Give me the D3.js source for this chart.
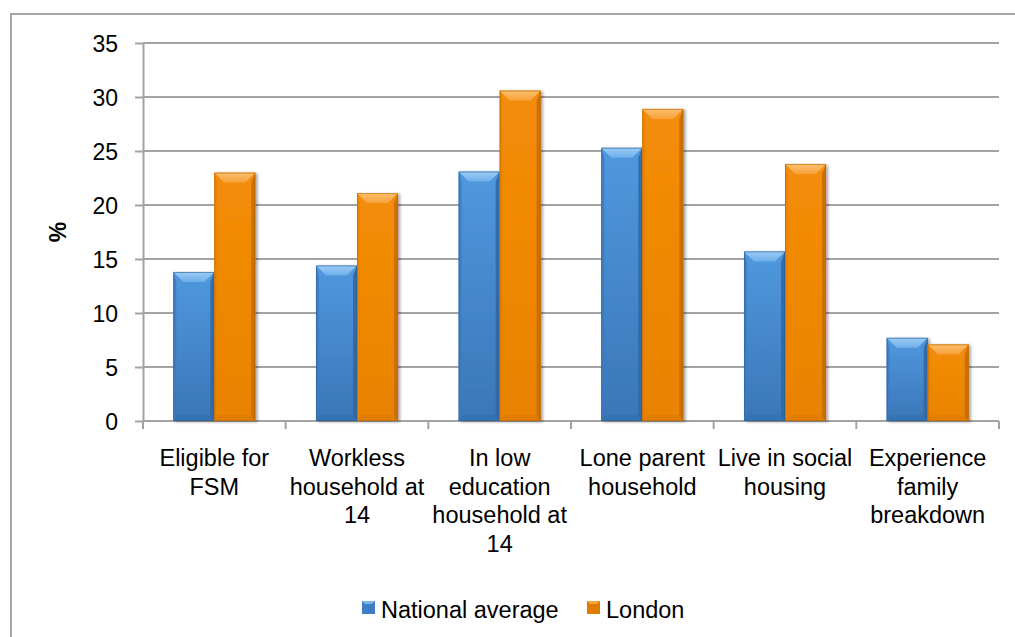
<!DOCTYPE html>
<html>
<head>
<meta charset="utf-8">
<script src="https://cdn.jsdelivr.net/npm/d3@7"></script>
<style>
  html, body { margin: 0; padding: 0; background: #ffffff; }
  svg { display: block; font-family: "Liberation Sans", Arial, sans-serif; }
</style>
</head>
<body>
<svg id="chart" width="1015" height="637"></svg>
<script>
// ---- data ----
const categories = [
  ["Eligible for", "FSM"],
  ["Workless", "household at", "14"],
  ["In low", "education", "household at", "14"],
  ["Lone parent", "household"],
  ["Live in social", "housing"],
  ["Experience", "family", "breakdown"]
];
const seriesNames = ["National average", "London"];
const nationalAverage = [13.8, 14.4, 23.1, 25.3, 15.7, 7.7];
const london = [23.0, 21.1, 30.6, 28.9, 23.8, 7.1];
const yTicks = [0, 5, 10, 15, 20, 25, 30, 35];
const yLabel = "%";

// ---- layout ----
const svg = d3.select("#chart");
const plot = { left: 143, right: 999, top: 43, bottom: 421 };
const gridColor = "#a3a3a3";

const catKeys = categories.map((c, i) => i);
const x0 = d3.scaleBand().domain(catKeys).range([plot.left, plot.right])
  .paddingInner(0.425).paddingOuter(0.2125);
const x1 = d3.scaleBand().domain(seriesNames).range([0, x0.bandwidth()]).padding(0);
const y = d3.scaleLinear().domain([0, 35]).range([plot.bottom, plot.top]);

// outer chart border
svg.append("rect").attr("x", 11).attr("y", 14).attr("width", 1012).attr("height", 640)
  .attr("fill", "none").attr("stroke", "#a6a6a6").attr("stroke-width", 2);

// defs: gradients
const defs = svg.append("defs");
function vgrad(id, stops) {
  const g = defs.append("linearGradient").attr("id", id)
    .attr("x1", 0).attr("y1", 0).attr("x2", 0).attr("y2", 1);
  stops.forEach(s => g.append("stop").attr("offset", s[0]).attr("stop-color", s[1]));
}
vgrad("blueBody", [[0, "#5098de"], [1, "#3a76b8"]]);
vgrad("orangeBody", [[0, "#f48d08"], [1, "#e98300"]]);
vgrad("blueTop", [[0, "#9ccdf6"], [1, "#6eaeea"]]);
vgrad("orangeTop", [[0, "#fcc070"], [1, "#f7a23a"]]);
const filt = defs.append("filter").attr("id", "shadow").attr("x", "-20%").attr("y", "-20%")
  .attr("width", "140%").attr("height", "140%");
filt.append("feDropShadow").attr("dx", 2).attr("dy", 1).attr("stdDeviation", 1.5)
  .attr("flood-color", "#000").attr("flood-opacity", 0.35);

const palette = {
  "National average": { body: "url(#blueBody)", top: "url(#blueTop)", left: "#3c7cc0", right: "#2f66a3", bottom: "#3470ae", edge: "#2d5f96" },
  "London": { body: "url(#orangeBody)", top: "url(#orangeTop)", left: "#e88400", right: "#c46c00", bottom: "#dc7c00", edge: "#b86600" }
};

// gridlines
svg.append("g").selectAll("line").data(yTicks.filter(t => t > 0)).join("line")
  .attr("x1", plot.left).attr("x2", plot.right)
  .attr("y1", d => y(d)).attr("y2", d => y(d))
  .attr("stroke", gridColor).attr("stroke-width", 2);

// y axis
const yAxis = svg.append("g").attr("transform", `translate(${plot.left},0)`)
  .call(d3.axisLeft(y).tickValues(yTicks).tickSize(8).tickPadding(17).tickSizeOuter(0));
yAxis.select(".domain").attr("stroke", gridColor).attr("stroke-width", 2);
yAxis.selectAll(".tick line").attr("stroke", gridColor).attr("stroke-width", 2);
yAxis.selectAll(".tick text").attr("font-size", "23px").attr("fill", "#000")
  .attr("font-family", "Liberation Sans, Arial, sans-serif").attr("dy", "0.36em");

// x axis
const xAxisScale = d3.scalePoint().domain(d3.range(categories.length + 1)).range([plot.left, plot.right]);
const xg = svg.append("g");
xg.append("line").attr("x1", plot.left).attr("x2", plot.right)
  .attr("y1", y(0)).attr("y2", y(0)).attr("stroke", gridColor).attr("stroke-width", 2);
xg.selectAll("line.tk").data(xAxisScale.domain()).join("line").attr("class", "tk")
  .attr("x1", d => xAxisScale(d)).attr("x2", d => xAxisScale(d))
  .attr("y1", y(0)).attr("y2", y(0) + 8).attr("stroke", gridColor).attr("stroke-width", 2);

// bars
const bv = 10;
const groups = svg.append("g").selectAll("g").data(catKeys).join("g")
  .attr("transform", d => `translate(${x0(d)},0)`);
groups.each(function(ci) {
  const g = d3.select(this);
  const vals = [nationalAverage[ci], london[ci]];
  seriesNames.forEach((s, si) => {
    const p = palette[s];
    const bx = x1(s), w = x1.bandwidth();
    const top = y(vals[si]), bot = y(0), h = bot - top;
    const bar = g.append("g").attr("filter", "url(#shadow)");
    bar.append("rect").attr("x", bx).attr("y", top).attr("width", w).attr("height", h).attr("fill", p.body);
    bar.append("polygon").attr("points", [[bx, top], [bx + 3, top + bv], [bx + 3, bot - 3], [bx, bot]].map(q => q.join(",")).join(" "))
      .attr("fill", p.left).attr("opacity", 0.8);
    bar.append("polygon").attr("points", [[bx + w, top], [bx + w - 4, top + bv], [bx + w - 4, bot - 3], [bx + w, bot]].map(q => q.join(",")).join(" "))
      .attr("fill", p.right).attr("opacity", 0.85);
    bar.append("polygon").attr("points", [[bx, bot], [bx + 3, bot - 6], [bx + w - 4, bot - 6], [bx + w, bot]].map(q => q.join(",")).join(" "))
      .attr("fill", p.bottom).attr("opacity", 0.6);
    bar.append("polygon").attr("points", [[bx, top], [bx + w, top], [bx + w - bv, top + bv], [bx + bv, top + bv]].map(q => q.join(",")).join(" "))
      .attr("fill", p.top);
    bar.append("rect").attr("x", bx + 0.5).attr("y", top + 0.5).attr("width", w - 1).attr("height", h - 1)
      .attr("fill", "none").attr("stroke", p.edge).attr("stroke-width", 1).attr("opacity", 0.6);
  });
});

// category labels
const lineH = 28.5;
const labels = svg.append("g").selectAll("text").data(catKeys).join("text")
  .attr("x", d => x0(d) + x0.bandwidth() / 2)
  .attr("y", 466)
  .attr("text-anchor", "middle").attr("font-size", "23.5px").attr("fill", "#000");
labels.each(function(ci) {
  const t = d3.select(this);
  categories[ci].forEach((line, li) => {
    t.append("tspan").attr("x", x0(ci) + x0.bandwidth() / 2).attr("y", 466 + li * lineH).text(line);
  });
});

// y label
svg.append("text").attr("transform", "translate(66,232) rotate(-90)")
  .attr("text-anchor", "middle").attr("font-size", "23px").attr("font-weight", "bold")
  .attr("fill", "#000").text(yLabel);

// legend
const legendItems = [
  { name: seriesNames[0], x: 362, color: "#3f7ec2", light: "#7ab4ea" },
  { name: seriesNames[1], x: 587, color: "#e07a00", light: "#f7a53c" }
];
const lg = svg.append("g").selectAll("g").data(legendItems).join("g")
  .attr("transform", d => `translate(${d.x},601)`);
lg.append("rect").attr("width", 13).attr("height", 13).attr("fill", d => d.color);
lg.append("polygon").attr("points", "0,0 13,0 10,3 3,3").attr("fill", d => d.light);
lg.append("text").attr("x", 19).attr("y", 16.5).attr("font-size", "23.5px").attr("fill", "#000")
  .text(d => d.name);
</script>
</body>
</html>
